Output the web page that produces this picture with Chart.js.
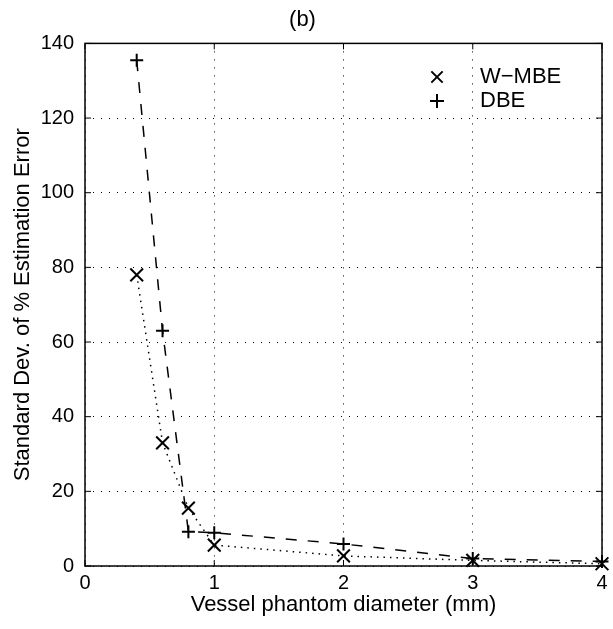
<!DOCTYPE html>
<html lang="en">
<head>
<meta charset="UTF-8"/>
<title>Standard Dev. of % Estimation Error</title>
<script src="https://cdn.jsdelivr.net/npm/chart.js"></script>
<style>
  html, body { margin:0; padding:0; background:#fff; }
</style>
</head>
<body>
<canvas id="sdChart" width="613" height="629"></canvas>

<script>
/* ===== data ===== */
const diameters = [0.4, 0.6, 0.8, 1, 2, 3, 4];          // mm
const wmbeSD    = [78, 33, 15.5, 5.6, 2.7, 1.5, 0.6];   // W-MBE
const dbeSD     = [135.5, 63, 9.2, 8.9, 5.9, 2, 1.2];   // DBE
const xTicks    = [0, 1, 2, 3, 4];
const yTicks    = [0, 20, 40, 60, 80, 100, 120, 140];

const toPoints = ys => diameters.map((x, i) => ({ x: x, y: ys[i] }));

Chart.defaults.font.family = '"Liberation Sans", Arial, Helvetica, sans-serif';
Chart.defaults.color = '#000';

// solid frame + little inward ticks on all 4 sides (matlab style box)
const framePlugin = {
  id: 'frame',
  afterDraw(chart){
    const {ctx, chartArea: a, scales:{x, y}} = chart;
    ctx.save();
    ctx.strokeStyle = '#000';
    ctx.lineWidth = 1.5;
    ctx.setLineDash([]);
    ctx.strokeRect(a.left, a.top, a.right - a.left, a.bottom - a.top);
    ctx.lineWidth = 1;
    ctx.beginPath();
    xTicks.forEach(v => {
      const px = x.getPixelForValue(v);
      ctx.moveTo(px, a.bottom); ctx.lineTo(px, a.bottom - 6);
      ctx.moveTo(px, a.top);    ctx.lineTo(px, a.top + 6);
    });
    yTicks.forEach(v => {
      const py = y.getPixelForValue(v);
      ctx.moveTo(a.left, py);  ctx.lineTo(a.left + 6, py);
      ctx.moveTo(a.right, py); ctx.lineTo(a.right - 6, py);
    });
    ctx.stroke();
    ctx.restore();
  }
};

// legend inside the plot, no box
const markLegend = {
  id: 'markLegend',
  afterDraw(chart){
    const {ctx} = chart;
    const rows = [77, 101];
    ctx.save();
    ctx.strokeStyle = '#000';
    ctx.fillStyle = '#000';
    ctx.font = '22px "Liberation Sans", Arial, sans-serif';
    ctx.textBaseline = 'middle';
    ctx.textAlign = 'left';
    chart.data.datasets.forEach((ds, i) => {
      ctx.setLineDash([]);
      Chart.helpers.drawPoint(ctx, {
        pointStyle: ds.pointStyle,
        radius: ds.pointStyle === 'crossRot' ? 8 : 7,
        borderWidth: 1.5,
        rotation: 0
      }, 437, rows[i]);
      ctx.fillText(ds.label, 480, rows[i]);
    });
    ctx.restore();
  }
};

new Chart(document.getElementById('sdChart').getContext('2d'), {
  type: 'line',
  data: {
    datasets: [{
      label: 'W\u2212MBE',
      data: toPoints(wmbeSD),
      borderColor: '#000',
      backgroundColor: '#000',
      borderWidth: 1.5,
      borderDash: [1.5, 5],
      pointStyle: 'crossRot',
      pointRadius: 9,
      pointBorderWidth: 2,
      pointBorderColor: '#000',
      tension: 0,
      fill: false,
      clip: false
    }, {
      label: 'DBE',
      data: toPoints(dbeSD),
      borderColor: '#000',
      backgroundColor: '#000',
      borderWidth: 1.5,
      borderDash: [11, 11],
      pointStyle: 'cross',
      pointRadius: 6.5,
      pointBorderWidth: 2,
      pointBorderColor: '#000',
      tension: 0,
      fill: false,
      clip: false
    }]
  },
  options: {
    responsive: false,
    animation: false,
    layout: { padding: { left: 0, right: 8, top: 0, bottom: 0 } },
    plugins: {
      legend: { display: false },
      tooltip: { enabled: false },
      title: {
        display: true,
        text: '(b)',
        color: '#000',
        font: { size: 22, weight: 'normal' },
        padding: { top: 7, bottom: 10 }
      }
    },
    scales: {
      x: {
        type: 'linear',
        min: 0, max: 4,
        afterBuildTicks: s => { s.ticks = xTicks.map(v => ({ value: v })); },
        afterFit: s => { s.height = 63; },
        ticks: { font: { size: 20 }, color: '#000', padding: 5, maxRotation: 0 },
        grid: { color: '#000', lineWidth: 1, drawTicks: false },
        border: { display: false, dash: [1, 7] },
        title: {
          display: true,
          text: 'Vessel phantom diameter (mm)',
          color: '#000',
          font: { size: 22 },
          padding: { top: 0, bottom: 11 }
        }
      },
      y: {
        type: 'linear',
        min: 0, max: 140,
        afterBuildTicks: s => { s.ticks = yTicks.map(v => ({ value: v })); },
        afterFit: s => { s.width = 85; },
        ticks: { font: { size: 20 }, color: '#000', padding: 11 },
        grid: { color: '#000', lineWidth: 1, drawTicks: false },
        border: { display: false, dash: [1, 7] },
        title: {
          display: true,
          text: 'Standard Dev. of % Estimation Error',
          color: '#000',
          font: { size: 22 },
          padding: { top: 10, bottom: 0 }
        }
      }
    }
  },
  plugins: [framePlugin, markLegend]
});
</script>
</body>
</html>
